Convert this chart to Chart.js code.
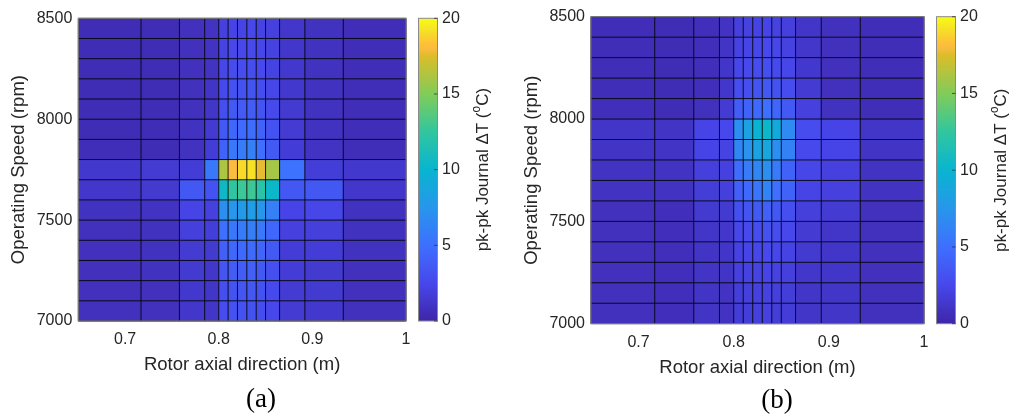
<!DOCTYPE html>
<html>
<head>
<meta charset="utf-8">
<script src="https://cdn.jsdelivr.net/npm/chart.js@4.4.1/dist/chart.umd.min.js"></script>
<style>
  html, body { margin: 0; padding: 0; background: #fff; width: 1013px; height: 415px; overflow: hidden; }
  canvas { position: absolute; top: 0; }
  #chartA { left: 0; }
  #chartB { left: 506px; }
  .caption { position: absolute; font-family: "Liberation Serif", "Times New Roman", serif; font-size: 27px; color: #000; transform: translate(-50%, -50%); white-space: nowrap; }
</style>
</head>
<body>
<canvas id="chartA" width="506" height="415"></canvas>
<canvas id="chartB" width="507" height="415"></canvas>
<div class="caption" style="left:261px; top:398px;">(a)</div>
<div class="caption" style="left:777px; top:399px;">(b)</div>
<script>
// Cell edges along the rotor (m) and in operating speed (rpm)
const axialEdges = [0.65, 0.717, 0.758, 0.785, 0.80, 0.81, 0.82, 0.83, 0.84, 0.85, 0.865, 0.892, 0.933, 1.0];
const speedEdges = [7000, 7100, 7200, 7300, 7400, 7500, 7600, 7700, 7800, 7900, 8000, 8100, 8200, 8300, 8400, 8500];

// Tick labels
const axialTicks = [0.7, 0.8, 0.9, 1];
const speedTicks = [7000, 7500, 8000, 8500];
const deltaTTicks = [0, 5, 10, 15, 20];

// pk-pk journal temperature difference (degC), one row per speed band, from 7000 rpm upward
const deltaTA = [
  [0.8, 0.8, 1.3, 1.2, 2.8, 3.1, 3.2, 3.2, 2.9, 2.5, 1.6, 1.4, 0.8],
  [0.8, 0.8, 1.4, 1.2, 3.0, 3.3, 3.4, 3.5, 3.2, 2.7, 1.6, 1.5, 0.8],
  [0.8, 0.9, 1.5, 1.3, 3.4, 3.8, 3.9, 4.0, 3.6, 3.0, 1.7, 1.5, 0.8],
  [0.8, 0.9, 1.6, 1.5, 4.0, 4.5, 4.6, 4.7, 4.3, 3.6, 1.7, 1.7, 0.9],
  [0.8, 0.9, 1.9, 1.8, 5.0, 5.5, 5.8, 5.9, 5.5, 4.5, 2.0, 1.9, 0.9],
  [0.9, 1.0, 2.3, 2.0, 7.0, 7.5, 7.8, 8.0, 7.6, 6.0, 2.3, 2.4, 0.9],
  [1.3, 1.5, 3.5, 3.2, 10.5, 12.4, 12.8, 12.9, 12.0, 10.3, 3.5, 3.5, 1.3],
  [1.4, 1.6, 1.7, 5.5, 16.2, 18.0, 19.0, 19.2, 17.7, 16.0, 5.2, 1.8, 1.4],
  [0.6, 0.5, 0.9, 1.7, 4.2, 5.5, 5.8, 6.0, 5.0, 3.6, 1.7, 1.0, 0.6],
  [0.5, 0.5, 0.9, 1.5, 3.6, 4.5, 4.7, 4.9, 4.2, 3.2, 1.6, 0.9, 0.6],
  [0.5, 0.5, 0.8, 1.2, 3.0, 3.6, 3.7, 3.8, 3.3, 2.7, 1.5, 0.9, 0.6],
  [0.5, 0.5, 0.8, 1.1, 2.7, 3.1, 3.2, 3.3, 2.9, 2.4, 1.4, 0.9, 0.6],
  [0.5, 0.5, 0.8, 1.0, 2.4, 2.8, 2.8, 2.9, 2.6, 2.2, 1.4, 0.9, 0.6],
  [0.5, 0.5, 0.8, 1.0, 2.2, 2.5, 2.5, 2.7, 2.4, 2.1, 1.3, 0.9, 0.6],
  [0.5, 0.5, 0.8, 1.0, 2.0, 2.3, 2.3, 2.5, 2.2, 2.0, 1.3, 0.9, 0.6]
];

const deltaTB = [
  [0.8, 0.7, 1.1, 1.0, 1.7, 1.8, 1.9, 2.0, 1.8, 1.7, 1.2, 1.2, 0.8],
  [0.8, 0.7, 1.1, 1.0, 1.8, 1.9, 2.0, 2.1, 1.9, 1.8, 1.2, 1.2, 0.8],
  [0.8, 0.7, 1.1, 1.1, 1.9, 2.1, 2.2, 2.3, 2.1, 1.9, 1.3, 1.2, 0.8],
  [0.8, 0.7, 1.1, 1.2, 2.1, 2.3, 2.4, 2.6, 2.4, 2.2, 1.5, 1.2, 0.8],
  [0.8, 0.7, 1.2, 1.3, 2.4, 2.6, 2.8, 3.1, 2.8, 2.5, 1.6, 1.2, 0.8],
  [0.8, 0.7, 1.5, 1.5, 3.0, 3.3, 3.6, 4.0, 3.5, 3.0, 1.9, 1.6, 0.8],
  [1.0, 1.0, 1.8, 1.9, 4.0, 4.6, 5.4, 6.3, 5.0, 4.2, 2.3, 2.0, 1.0],
  [1.0, 1.0, 1.9, 2.0, 4.8, 5.8, 6.5, 7.0, 5.8, 4.2, 2.4, 2.0, 1.0],
  [1.1, 1.1, 2.3, 2.2, 6.5, 7.3, 8.5, 8.8, 7.0, 6.2, 2.6, 2.3, 1.1],
  [1.2, 1.1, 2.3, 2.5, 7.0, 8.5, 9.8, 10.3, 9.0, 6.8, 2.8, 2.3, 1.2],
  [0.7, 0.5, 0.8, 1.6, 3.8, 4.2, 4.6, 5.0, 4.4, 3.6, 2.0, 0.9, 0.6],
  [0.6, 0.5, 0.7, 1.3, 2.8, 3.0, 3.3, 3.5, 3.2, 2.8, 1.6, 0.8, 0.6],
  [0.6, 0.5, 0.7, 1.2, 2.4, 2.6, 2.8, 3.0, 2.7, 2.4, 1.4, 0.8, 0.6],
  [0.6, 0.5, 0.7, 1.1, 2.1, 2.3, 2.4, 2.6, 2.4, 2.1, 1.3, 0.8, 0.6],
  [0.6, 0.5, 0.7, 1.0, 1.9, 2.1, 2.2, 2.3, 2.1, 1.9, 1.2, 0.8, 0.6]
];

const colorMin = 0, colorMax = 20;

// Parula colour map as [position 0..1, r, g, b] anchors
const parulaStops = [
  [0.000, 62, 38, 168],
  [0.125, 71, 71, 235],
  [0.250, 62, 111, 255],
  [0.375, 39, 150, 235],
  [0.500, 8, 181, 208],
  [0.625, 49, 198, 159],
  [0.750, 129, 204, 89],
  [0.875, 220, 189, 41],
  [0.900, 250, 187, 62],
  [0.925, 253, 198, 52],
  [0.960, 245, 225, 38],
  [1.000, 249, 251, 21]
];
function parula(t) {
  t = Math.max(0, Math.min(1, t));
  let i = 0;
  while (i < parulaStops.length - 2 && t > parulaStops[i + 1][0]) i++;
  const a = parulaStops[i], b = parulaStops[i + 1];
  const f = (t - a[0]) / (b[0] - a[0]);
  const c = [1, 2, 3].map(k => Math.round(a[k] + (b[k] - a[k]) * f));
  return `rgb(${c[0]},${c[1]},${c[2]})`;
}

const textColor = '#262626';
const fontFamily = '"Liberation Sans", Arial, Helvetica, sans-serif';

// Draws the pcolor-style cells, their edges, the box, the colour bar and the axis titles
const heatmapPlugin = {
  id: 'heatmap',
  beforeDatasetsDraw(chart, args, opts) {
    const { ctx, scales: { x, y } } = chart;
    const values = opts.values;
    ctx.save();
    for (let r = 0; r < values.length; r++) {
      const yTop = y.getPixelForValue(speedEdges[r + 1]);
      const yBot = y.getPixelForValue(speedEdges[r]);
      for (let c = 0; c < values[r].length; c++) {
        const xL = x.getPixelForValue(axialEdges[c]);
        const xR = x.getPixelForValue(axialEdges[c + 1]);
        ctx.fillStyle = parula((values[r][c] - colorMin) / (colorMax - colorMin));
        ctx.fillRect(xL - 0.3, yTop - 0.3, xR - xL + 0.6, yBot - yTop + 0.6);
      }
    }
    // cell edges
    ctx.strokeStyle = 'rgba(0,0,0,0.85)';
    ctx.lineWidth = 1;
    ctx.beginPath();
    const top = y.getPixelForValue(speedEdges[speedEdges.length - 1]);
    const bot = y.getPixelForValue(speedEdges[0]);
    const left = x.getPixelForValue(axialEdges[0]);
    const right = x.getPixelForValue(axialEdges[axialEdges.length - 1]);
    axialEdges.forEach(v => {
      const px = x.getPixelForValue(v);
      ctx.moveTo(px, top); ctx.lineTo(px, bot);
    });
    speedEdges.forEach(v => {
      const py = y.getPixelForValue(v);
      ctx.moveTo(left, py); ctx.lineTo(right, py);
    });
    ctx.stroke();
    // axes box
    ctx.strokeStyle = '#8a8a8a';
    ctx.strokeRect(left, top, right - left, bot - top);
    ctx.restore();
  },
  afterDraw(chart, args, opts) {
    const { ctx, chartArea, scales: { cb } } = chart;
    ctx.save();
    // colour bar
    const barL = chartArea.right + 12.5;
    const barW = 19;
    const y0 = cb.getPixelForValue(colorMin);
    const y1 = cb.getPixelForValue(colorMax);
    const grad = ctx.createLinearGradient(0, y0, 0, y1);
    for (let i = 0; i <= 128; i++) grad.addColorStop(i / 128, parula(i / 128));
    ctx.fillStyle = grad;
    ctx.fillRect(barL, y1, barW, y0 - y1);
    ctx.strokeStyle = '#8a8a8a';
    ctx.lineWidth = 1;
    ctx.strokeRect(barL, y1, barW, y0 - y1);
    // colour bar ticks and labels
    ctx.fillStyle = textColor;
    ctx.font = `16px ${fontFamily}`;
    ctx.textAlign = 'left';
    ctx.textBaseline = 'middle';
    ctx.strokeStyle = 'rgba(38,38,38,0.7)';
    deltaTTicks.forEach(v => {
      const py = cb.getPixelForValue(v);
      ctx.beginPath();
      ctx.moveTo(barL + barW - 3.5, py); ctx.lineTo(barL + barW, py);
      ctx.stroke();
      ctx.fillText(String(v), chartArea.right + 36, py);
    });
    // colour bar title, with a superscript degree "o"
    const fs = 17;
    const partA = 'pk-pk Journal \u0394T (';
    const partSup = 'o';
    const partB = 'C)';
    ctx.font = `${fs}px ${fontFamily}`;
    const wA = ctx.measureText(partA).width;
    const wB = ctx.measureText(partB).width;
    ctx.font = `${fs * 0.7}px ${fontFamily}`;
    const wS = ctx.measureText(partSup).width;
    const total = wA + wS + wB;
    ctx.translate(chartArea.right + 77, (chartArea.top + chartArea.bottom) / 2);
    ctx.rotate(-Math.PI / 2);
    ctx.textAlign = 'left';
    ctx.textBaseline = 'middle';
    let sx = -total / 2;
    ctx.font = `${fs}px ${fontFamily}`;
    ctx.fillText(partA, sx, 0); sx += wA;
    ctx.font = `${fs * 0.7}px ${fontFamily}`;
    ctx.fillText(partSup, sx, -fs * 0.35); sx += wS;
    ctx.font = `${fs}px ${fontFamily}`;
    ctx.fillText(partB, sx, 0);
    ctx.restore();

    // axis titles
    ctx.save();
    ctx.fillStyle = textColor;
    ctx.font = `18.5px ${fontFamily}`;
    ctx.textAlign = 'center';
    ctx.textBaseline = 'middle';
    ctx.fillText('Rotor axial direction (m)', (chartArea.left + chartArea.right) / 2, chartArea.bottom + 44);
    ctx.translate(chartArea.left - 59, (chartArea.top + chartArea.bottom) / 2);
    ctx.rotate(-Math.PI / 2);
    ctx.fillText('Operating Speed (rpm)', 0, 0);
    ctx.restore();
  }
};

function makePanel(id, values, area) {
  const canvas = document.getElementById(id);
  const W = canvas.width, H = canvas.height;
  return new Chart(canvas, {
    type: 'scatter',
    data: { datasets: [] },
    options: {
      responsive: false,
      animation: false,
      devicePixelRatio: 1,
      layout: { padding: { left: 0, top: area.top, right: W - area.right, bottom: 0 } },
      plugins: {
        legend: { display: false },
        tooltip: { enabled: false },
        heatmap: { values }
      },
      scales: {
        x: {
          type: 'linear',
          min: axialEdges[0],
          max: axialEdges[axialEdges.length - 1],
          afterBuildTicks: s => { s.ticks = axialTicks.map(v => ({ value: v })); },
          afterFit: s => { s.height = H - area.bottom; },
          grid: { display: false, drawTicks: false },
          border: { display: false },
          ticks: {
            color: textColor, padding: 9,
            font: { family: fontFamily, size: 16 },
            maxRotation: 0, autoSkip: false,
            callback: v => String(v)
          }
        },
        y: {
          type: 'linear',
          min: speedEdges[0],
          max: speedEdges[speedEdges.length - 1],
          afterBuildTicks: s => { s.ticks = speedTicks.map(v => ({ value: v })); },
          afterFit: s => { s.width = area.left; },
          grid: { display: false, drawTicks: false },
          border: { display: false },
          ticks: {
            color: textColor, padding: 6,
            font: { family: fontFamily, size: 16 },
            autoSkip: false,
            callback: v => String(v)
          }
        },
        cb: {
          type: 'linear',
          position: 'right',
          display: false,
          min: colorMin,
          max: colorMax
        }
      }
    },
    plugins: [heatmapPlugin]
  });
}

makePanel('chartA', deltaTA, { left: 78.3, top: 18.3, right: 406, bottom: 321 });
makePanel('chartB', deltaTB, { left: 85, top: 16.7, right: 418, bottom: 323.7 });
</script>
</body>
</html>
